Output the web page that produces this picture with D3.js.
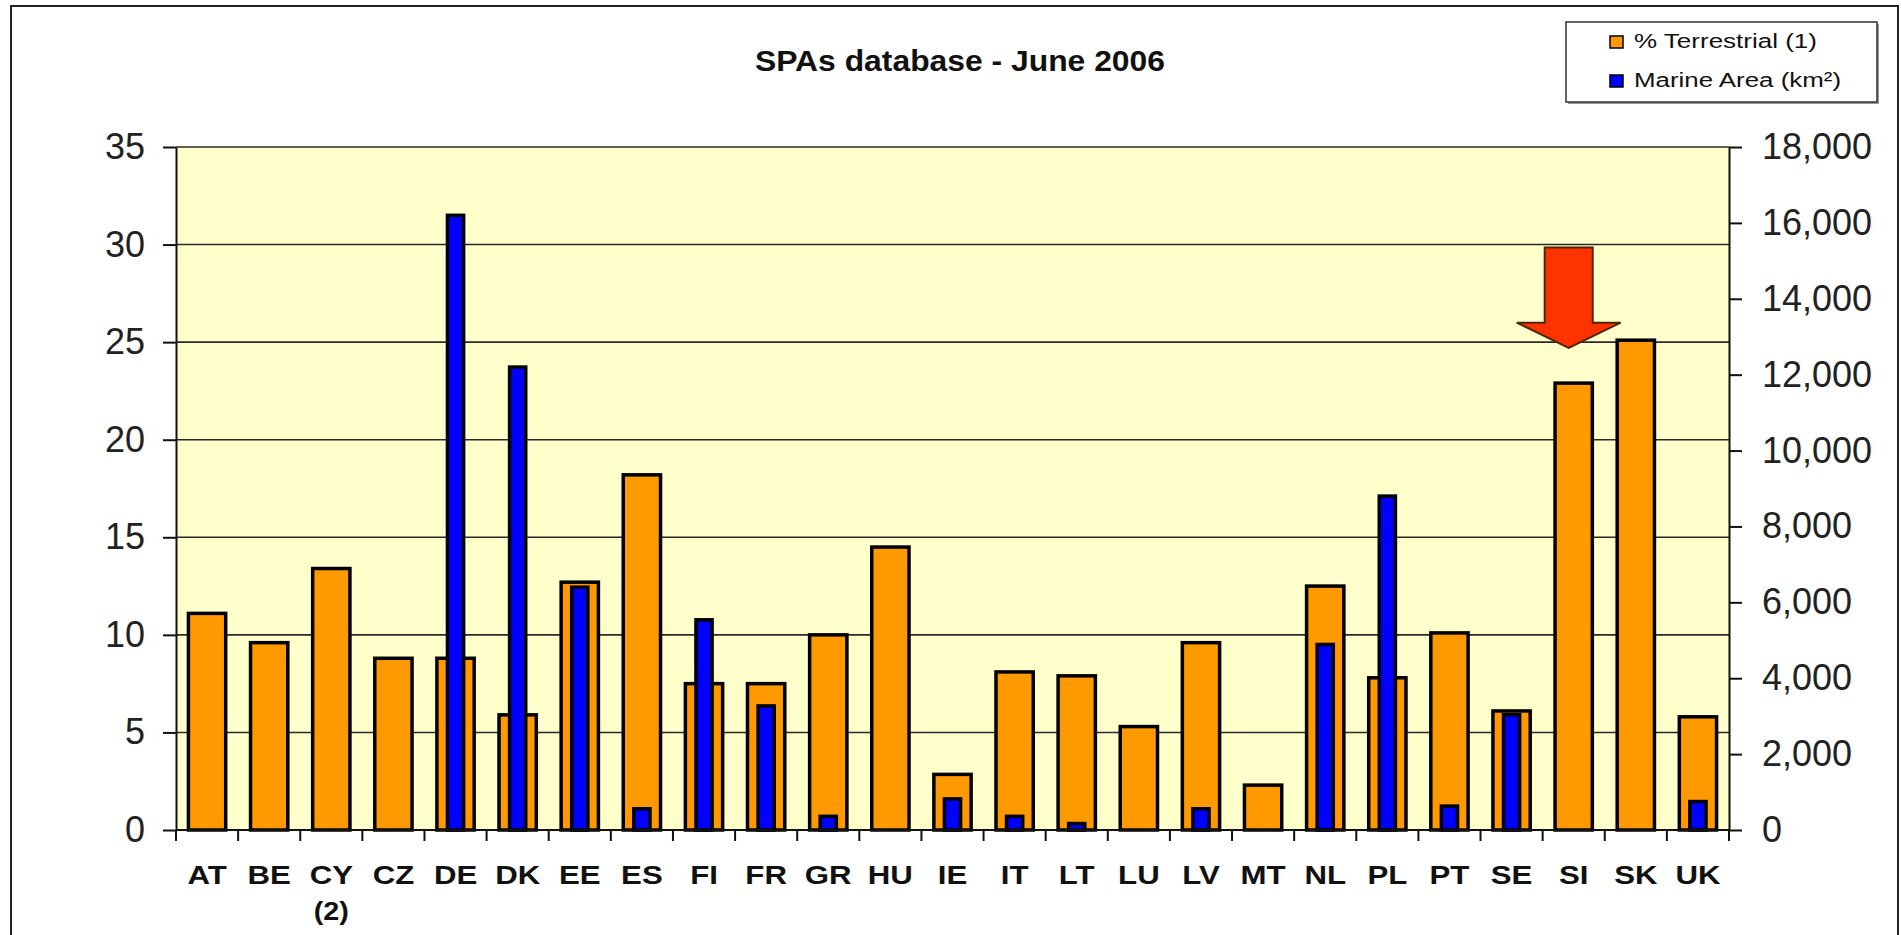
<!DOCTYPE html>
<html>
<head>
<meta charset="utf-8">
<script src="https://cdn.jsdelivr.net/npm/d3@7"></script>
<style>
  html, body { margin: 0; padding: 0; background: #fff; }
  svg { display: block; }
</style>
</head>
<body>
<script>
// ---- data ----
const categories = ["AT","BE","CY","CZ","DE","DK","EE","ES","FI","FR","GR","HU","IE","IT","LT","LU","LV","MT","NL","PL","PT","SE","SI","SK","UK"];
const categoryNotes = ["","","(2)","","","","","","","","","","","","","","","","","","","","","",""];
const terrestrialPct = [11.1, 9.6, 13.4, 8.8, 8.8, 5.9, 12.7, 18.2, 7.5, 7.5, 10.0, 14.5, 2.85, 8.1, 7.9, 5.3, 9.6, 2.3, 12.5, 7.8, 10.1, 6.1, 22.9, 25.1, 5.8];
const marineKm2 = [0, 0, 0, 0, 16200, 12200, 6400, 560, 5540, 3270, 360, 0, 820, 360, 170, 0, 560, 0, 4890, 8800, 630, 3040, 0, 0, 750];
const leftTicks = [0, 5, 10, 15, 20, 25, 30, 35];
const rightTicks = [0, 2000, 4000, 6000, 8000, 10000, 12000, 14000, 16000, 18000];
const seriesNames = ["% Terrestrial (1)", "Marine Area (km²)"];
const titleText = "SPAs database - June 2006";
// annotation arrow (pointing at SI), in left-axis units
const arrowCategory = "SI";
const arrowLevels = { top: 29.85, base: 26.0, tip: 24.7 };

// ---- layout ----
const W = 1901, H = 935;
const plot = { left: 176, right: 1729, top: 147, bottom: 830 };
const colors = { bg: "#FFFFCC", orange: "#FF9900", blue: "#0000FF", arrow: "#FF3300", grid: "#2a2a2a" };

const svg = d3.select("body").append("svg").attr("width", W).attr("height", H);

// outer frame
svg.append("rect").attr("x", 11).attr("y", 6).attr("width", 1887).attr("height", 960)
  .attr("fill", "none").attr("stroke", "#222").attr("stroke-width", 2);

const x = d3.scaleBand().domain(categories).range([plot.left, plot.right]).padding(0);
const yL = d3.scaleLinear().domain([0, 35]).range([plot.bottom, plot.top]);
const yR = d3.scaleLinear().domain([0, 18000]).range([plot.bottom, plot.top]);
const bw = x.bandwidth();

// plot background
svg.append("rect").attr("x", plot.left).attr("y", plot.top)
  .attr("width", plot.right - plot.left).attr("height", plot.bottom - plot.top)
  .attr("fill", colors.bg);

// gridlines
svg.append("g").selectAll("line").data(leftTicks).join("line")
  .attr("x1", plot.left).attr("x2", plot.right)
  .attr("y1", d => yL(d)).attr("y2", d => yL(d))
  .attr("stroke", colors.grid).attr("stroke-width", 1.6);

const data = categories.map((c, i) => ({ c, t: terrestrialPct[i], m: marineKm2[i], note: categoryNotes[i] }));

// orange bars
const ow = bw * 0.60;
svg.append("g").selectAll("rect").data(data).join("rect")
  .attr("x", d => x(d.c) + (bw - ow) / 2)
  .attr("y", d => yL(d.t))
  .attr("width", ow)
  .attr("height", d => yL(0) - yL(d.t))
  .attr("fill", colors.orange).attr("stroke", "#000").attr("stroke-width", 3.5);

// blue bars
const blw = bw * 0.26;
svg.append("g").selectAll("rect").data(data.filter(d => d.m > 0)).join("rect")
  .attr("x", d => x(d.c) + (bw - blw) / 2)
  .attr("y", d => yR(d.m))
  .attr("width", blw)
  .attr("height", d => yR(0) - yR(d.m))
  .attr("fill", colors.blue).attr("stroke", "#000").attr("stroke-width", 3.5);

// axes
const axisFont = "'Liberation Sans', Arial, sans-serif";
const gL = svg.append("g").attr("transform", `translate(${plot.left},0)`)
  .call(d3.axisLeft(yL).tickValues(leftTicks).tickSize(13).tickSizeOuter(0).tickPadding(18));
const gR = svg.append("g").attr("transform", `translate(${plot.right},0)`)
  .call(d3.axisRight(yR).tickValues(rightTicks).tickFormat(d3.format(",")).tickSize(13).tickSizeOuter(0).tickPadding(20));
[gL, gR].forEach(g => {
  g.selectAll("path.domain").attr("stroke", "#111").attr("stroke-width", 2);
  g.selectAll(".tick line").attr("stroke", "#111").attr("stroke-width", 2);
  g.selectAll("text").attr("font-family", axisFont).attr("font-size", 36).attr("fill", "#222");
});

// bottom axis: line + boundary ticks
const gB = svg.append("g");
gB.append("line").attr("x1", plot.left).attr("x2", plot.right)
  .attr("y1", plot.bottom).attr("y2", plot.bottom).attr("stroke", "#111").attr("stroke-width", 2);
const bounds = categories.map(c => x(c)).concat([x.range()[1]]);
gB.selectAll("line.tk").data(bounds).join("line").attr("class", "tk")
  .attr("x1", d => d).attr("x2", d => d)
  .attr("y1", plot.bottom).attr("y2", plot.bottom + 11)
  .attr("stroke", "#111").attr("stroke-width", 2);
gB.selectAll("text.cat").data(data).join("text").attr("class", "cat")
  .attr("transform", d => `translate(${x(d.c) + bw / 2},884) scale(1.2,1)`)
  .attr("text-anchor", "middle").attr("font-family", axisFont)
  .attr("font-weight", "bold").attr("font-size", 26).attr("fill", "#111")
  .text(d => d.c);
gB.selectAll("text.note").data(data.filter(d => d.note)).join("text").attr("class", "note")
  .attr("transform", d => `translate(${x(d.c) + bw / 2},920) scale(1.15,1)`)
  .attr("text-anchor", "middle").attr("font-family", axisFont)
  .attr("font-weight", "bold").attr("font-size", 25).attr("fill", "#111")
  .text(d => d.note);

// arrow annotation
const ax = x(arrowCategory) + bw / 2 - 5;
const sh = 24, hh = 52;
const arrowPts = [
  [ax - sh, yL(arrowLevels.top)], [ax + sh, yL(arrowLevels.top)],
  [ax + sh, yL(arrowLevels.base)], [ax + hh, yL(arrowLevels.base)],
  [ax, yL(arrowLevels.tip)],
  [ax - hh, yL(arrowLevels.base)], [ax - sh, yL(arrowLevels.base)]
];
svg.append("polygon").attr("points", arrowPts.map(p => p.join(",")).join(" "))
  .attr("fill", colors.arrow).attr("stroke", "#4D2600").attr("stroke-width", 2)
  .attr("stroke-linejoin", "miter");

// title
svg.append("text").attr("x", 960).attr("y", 71).attr("text-anchor", "middle")
  .attr("font-family", axisFont).attr("font-weight", "bold").attr("font-size", 30)
  .attr("fill", "#111").attr("textLength", 410).attr("lengthAdjust", "spacingAndGlyphs")
  .text(titleText);

// legend
const lg = svg.append("g");
lg.append("rect").attr("x", 1568).attr("y", 24).attr("width", 311).attr("height", 80).attr("fill", "#999");
lg.append("rect").attr("x", 1566).attr("y", 22).attr("width", 311).attr("height", 80)
  .attr("fill", "#fff").attr("stroke", "#333").attr("stroke-width", 1.5);
const legendItems = [
  { name: seriesNames[0], color: colors.orange, y: 36, len: 183 },
  { name: seriesNames[1], color: colors.blue, y: 75, len: 207 }
];
legendItems.forEach(it => {
  lg.append("rect").attr("x", 1610).attr("y", it.y).attr("width", 13).attr("height", 12)
    .attr("fill", it.color).attr("stroke", "#000").attr("stroke-width", 1.5);
  lg.append("text").attr("x", 1634).attr("y", it.y + 12)
    .attr("font-family", axisFont).attr("font-size", 20).attr("fill", "#111")
    .attr("textLength", it.len).attr("lengthAdjust", "spacingAndGlyphs")
    .text(it.name);
});
</script>
</body>
</html>
